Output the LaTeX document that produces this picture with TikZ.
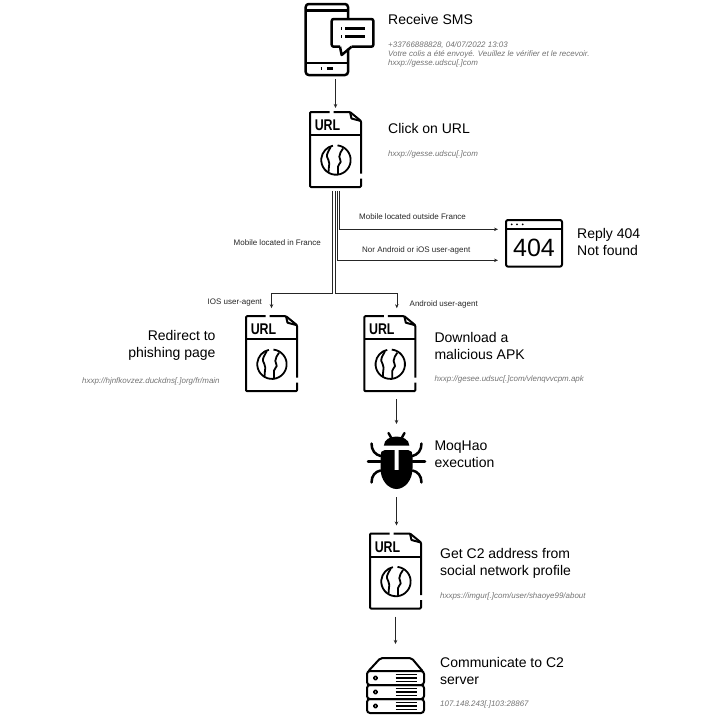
\documentclass[tikz,border=0pt]{standalone}
\usepackage{fontspec}
\setmainfont{Liberation Sans}
\usetikzlibrary{arrows.meta,calc}

\begin{document}
\begin{tikzpicture}[
    x=1pt, y=-1pt,
    icon/.style={minimum width=#1, inner sep=0pt, outer sep=8pt},
    icon/.default=51.5pt,
    line/.style={line width=2pt, line join=round},
    arr/.style={-{Stealth[length=4pt,width=3.5pt]}, line width=0.6pt, draw=black!85},
    title/.style={anchor=west, align=left, inner sep=0pt, font=\fontsize{14}{17}\selectfont},
    titler/.style={title, anchor=east, align=right},
    note/.style={anchor=west, align=left, inner sep=0pt, text=black!55, font=\fontsize{7.95}{9.4}\selectfont\itshape},
    cond/.style={anchor=west, inner sep=0pt, text=black!85, font=\fontsize{8}{10}\selectfont},
    urlicon/.pic={
        \draw[line, rounded corners=1pt] (-6,-37.5) -- (-25.5,-37.5) -- (-25.5,37.5) -- (25.5,37.5) -- (25.5,29);
        \draw[line, rounded corners=1pt] (25.5,24) -- (25.5,-28.5) -- (14.5,-37.5) -- (-2,-37.5);
        \draw[line] (14.5,-37.5) -- (16,-31) -- (25.5,-28.5);
        \draw[line] (-25.5,-14.5) -- (25.5,-14.5);
        \node[inner sep=0pt, xscale=.8, font=\fontsize{15.5}{15.5}\selectfont\bfseries] (tag) at (-8,-24) {URL};
        \draw[line, line width=1.8pt] (2,-4.1) arc (276:618:14.7);
        \draw[line, line width=1.8pt] (-4.8,-2.5) .. controls (-6.5,1) and (-9,4) .. (-8.5,7.2) .. controls (-8,10) and (-6,11) .. (-6.2,14) .. controls (-6.4,17) and (-7,20) .. (-7,23);
        \draw[line, line width=1.8pt] (7.5,-1) .. controls (6,2) and (3.5,4) .. (3.8,7.2) .. controls (4,10) and (5.5,10.5) .. (5.2,12.5) .. controls (5,14.5) and (2.5,14.5) .. (2.5,17) -- (2.5,24.5);
    },
    phoneicon/.pic={
        \draw[line, line width=2.5pt, rounded corners=3pt] (8.65,-20.5) -- (8.65,-35.5) -- (-33.65,-35.5) -- (-33.65,35.5) -- (8.65,35.5) -- (8.65,9);
        \draw[line, line width=2.5pt] (-33.65,-28.8) -- (8.65,-28.8);
        \draw[line, line width=2.5pt] (-33.65,23.5) -- (8.65,23.5);
        \draw[line, line width=2.5pt, rounded corners=2pt] (0.65,7.2) -- (-7.65,7.2) -- (-7.65,-20.5) -- (34,-20.5) -- (34,7.2) -- (12.3,7.2);
        \draw[line, line width=2.5pt] (0.65,7.2) -- (2.3,15.5) -- (12.3,7.2);
        \draw[line, line width=2.5pt] (-18.8,29.2) -- (-17.8,29.2);
        \draw[line, line width=2.5pt] (-12.6,29.2) -- (-6,29.2);
        \foreach \row in {-11.2,-2.8} {
            \draw[line, line width=2.5pt] (1.8,\row) -- (2.8,\row);
            \draw[line, line width=2.5pt] (5.7,\row) -- (25.7,\row);
        }
    },
    bugicon/.pic={
        \fill (-12.6,-15) .. controls (-12.6,-21) and (-6,-24) .. (0,-24) .. controls (6,-24) and (12.8,-21) .. (12.8,-15) -- cycle;
        \fill (2,-10.3) -- (2,9.5) -- (-2,9.5) -- (-2,-10.3) -- (-12,-10.3) .. controls (-15,-10.3) and (-16,-8) .. (-16,-5) -- (-16,8) .. controls (-16,20) and (-8,28.5) .. (0,28.5) .. controls (8,28.5) and (16,20) .. (16,8) -- (16,-5) .. controls (16,-8) and (15,-10.3) .. (12,-10.3) -- cycle;
        \foreach \s in {-1,1} {
            \draw[line width=2.4pt, line cap=round] (\s*5.5,-23) -- (\s*8,-27.5);
            \draw[line width=2.5pt, line cap=round] (\s*16,-4.5) .. controls (\s*21.5,-6) and (\s*25,-10) .. (\s*25,-17);
            \draw[line width=2.5pt, line cap=round] (\s*28.5,1) -- (\s*16,1);
            \draw[line width=2.5pt, line cap=round] (\s*16,10) .. controls (\s*21,11) and (\s*25,15) .. (\s*25,22);
        }
    },
    servericon/.pic={
        \draw[line, rounded corners=2pt] (-27,-15) -- (-15,-28) -- (16,-28) -- (27,-15);
        \foreach \row in {-15,-1,13} {
            \draw[line, rounded corners=3pt] (-28.5,\row) rectangle (28.5,\row+14);
            \draw[line, line width=1.6pt] (-20,\row+7) circle (1.9);
            \foreach \bar in {3.6,7,10.4} {
                \draw[line width=1.2pt] (0,\row+\bar) -- (21.5,\row+\bar);
            }
        }
    },
    erricon/.pic={
        \draw[line, rounded corners=2pt] (-28,-23.3) rectangle (28,23.3);
        \draw[line] (-28,-14) -- (28,-14);
        \foreach \col in {-22.3,-17,-11.3} {
            \fill (\col,-19) circle (1);
        }
        \node[inner sep=0pt, font=\fontsize{25}{25}\selectfont] (code) at (0,5) {404};
    }
]
\node[icon=67.3pt, minimum height=71pt, outer sep=4pt] (sms) at (339.35,39.5) {};
\node[icon, minimum height=75pt, outer sep=4pt] (click) at (335.5,149.5) {};
\node[icon=56pt, minimum height=46.6pt] (err) at (534,243.3) {};
\node[icon, minimum height=75pt] (ios) at (271.5,353.7) {};
\node[icon, minimum height=75pt] (apk) at (389.8,353.7) {};
\node[icon=57pt, minimum height=57pt] (bug) at (396.5,460.5) {};
\node[icon, minimum height=75pt] (c2) at (395.5,571) {};
\node[icon=57pt, minimum height=56pt, outer sep=14pt] (server) at (395.5,686) {};

\pic at (sms) {phoneicon};
\pic at (click) {urlicon};
\pic at (err) {erricon};
\pic at (ios) {urlicon};
\pic at (apk) {urlicon};
\pic at (bug) {bugicon};
\pic at (c2) {urlicon};
\pic at (server) {servericon};

\node[title] (t1) at (388,19) {Receive SMS};
\node[note] (n1) at (388,54.5) {+33766888828, 04/07/2022 13:03\\Votre colis a été envoyé. Veuillez le vérifier et le recevoir.\\hxxp://gesse.udscu[.]com};
\node[title] (t2) at (388,128) {Click on URL};
\node[note] (n2) at (388,154.5) {hxxp://gesse.udscu[.]com};
\node[title] (t3) at (577,241.5) {Reply 404\\Not found};
\node[titler] (t4) at (215.7,345.5) {Redirect to\\phishing page};
\node[note] (n4) at (82,381.7) {hxxp://hjnfkovzez.duckdns[.]org/fr/main};
\node[title] (t5) at (434.3,345.5) {Download a\\malicious APK};
\node[note] (n5) at (434.3,379) {hxxp://gesee.udsuc[.]com/vlenqvvcpm.apk};
\node[title] (t6) at (434.3,454) {MoqHao\\execution};
\node[title] (t7) at (440,563.5) {Get C2 address from\\social network profile};
\node[note] (n7) at (440,596) {hxxps://imgur[.]com/user/shaoye99/about};
\node[title] (t8) at (440,670.5) {Communicate to C2\\server};
\node[note] (n8) at (440,704) {107.148.243[.]103:28867};

\node[cond] (c1) at (359,216.7) {Mobile located outside France};
\node[cond] (c3) at (362,250) {Nor Android or iOS user-agent};
\node[cond] (c4) at (233.5,243) {Mobile located in France};
\node[cond] (c5) at (207.5,303) {IOS user-agent};
\node[cond] (c6) at (409.5,304) {Android user-agent};

\draw[arr] (sms.south -| click.north) -- (click.north);
\draw[arr] ([xshift=3.8pt]click.south) |- ([yshift=14pt]err.west);
\draw[arr] ([xshift=1.8pt]click.south) |- ([yshift=-17pt]err.west);
\draw[arr] ([xshift=-3.2pt]click.south) -- ++(0,102) -| (ios.north);
\draw[arr] ([xshift=-0.5pt]click.south) -- ++(0,102) -| ([xshift=7pt]apk.north);
\draw[arr] (bug.north |- apk.south) -- (bug.north);
\draw[arr] (bug.south) -- (bug.south |- c2.north);
\draw[arr] (c2.south) -- (server.north);
\useasboundingbox (0,0) rectangle (728,720);
\end{tikzpicture}
\end{document}
